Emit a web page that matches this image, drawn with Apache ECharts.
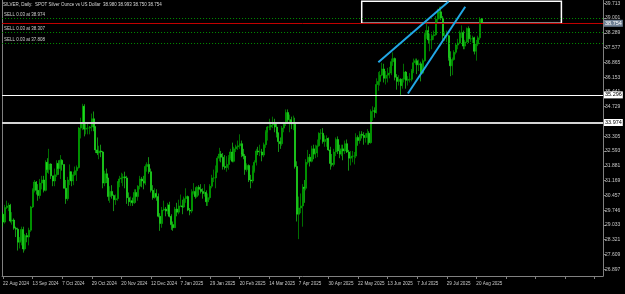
<!DOCTYPE html>
<html><head><meta charset="utf-8">
<script src="https://cdn.jsdelivr.net/npm/echarts@6/dist/echarts.min.js"></script>
<style>html,body{margin:0;padding:0;background:#000;overflow:hidden}#c{width:625px;height:294px}</style>
</head><body><div id="c"></div>
<script>
// ---- data (XAGUSD daily) ----
const startDate = '2024-08-22';
const holidays = ['2024-12-25','2025-01-01','2025-04-18'];
const opens = [
29.55,29.17,29.87,29.95,29.98,29.22,29.27,
28.88,28.83,28.20,28.28,28.82,27.88,28.52,28.45,28.78,29.90,30.72,31.10,30.70,30.45,31.05,31.20,30.70,32.05,31.70,31.97,31.40,
31.15,31.45,32.00,31.75,32.15,31.95,30.80,30.30,31.20,31.60,31.15,31.45,31.65,31.80,33.70,33.95,34.75,33.65,33.70,33.70,33.75,34.15,33.75,
32.65,32.50,32.60,32.55,31.05,31.50,31.30,30.40,30.65,30.45,30.25,30.30,31.10,31.25,31.30,31.35,31.30,30.35,30.15,30.20,30.10,
30.60,30.40,30.90,31.25,31.15,31.05,31.85,31.95,31.60,30.70,30.35,30.55,30.40,29.45,29.10,29.75,29.80,29.70,30.00,29.45,29.05,
28.90,29.80,29.65,29.95,29.95,29.90,30.30,30.40,29.75,29.70,30.60,30.65,30.40,30.85,30.75,30.65,30.55,30.60,30.15,30.35,30.90,31.30,
31.30,31.60,32.25,32.45,32.30,31.85,31.80,31.95,32.25,32.55,32.10,32.70,32.80,32.85,32.95,32.45,32.35,31.70,31.90,31.20,
31.15,31.65,32.05,32.60,32.55,32.55,32.40,32.90,33.50,33.75,33.75,33.85,33.95,33.75,33.45,33.05,32.95,33.70,33.95,34.45,34.10,
34.10,33.90,33.95,31.85,29.55,29.85,29.95,30.85,30.80,32.05,32.30,32.10,32.70,32.45,32.50,32.85,33.45,33.45,33.05,33.15,33.20,
32.65,32.00,31.95,32.55,33.15,32.60,32.45,32.70,32.60,32.95,32.55,32.25,32.30,32.35,32.35,33.25,33.10,33.40,33.35,33.25,33.25,33.45,
33.00,34.50,34.55,34.45,35.80,35.95,36.25,36.55,36.10,36.25,36.30,36.35,36.90,37.05,36.15,35.95,36.05,35.75,36.05,36.40,36.00,
36.05,36.05,36.45,36.85,36.95,36.75,36.80,36.35,36.95,38.20,38.40,37.95,37.95,38.15,38.20,38.95,39.25,39.30,39.00,38.15,38.15,38.15,37.10,
36.70,37.00,37.35,37.70,37.80,38.30,38.30,37.65,37.85,38.50,38.00,38.00,38.05,37.40,37.75,38.05,38.98];
const highs = [
29.65,30.00,30.20,30.10,30.05,29.65,29.35,
28.95,28.90,28.45,28.95,28.95,28.60,28.65,28.90,29.95,30.80,31.20,31.15,31.00,31.25,31.40,31.40,32.15,32.25,32.70,32.00,31.40,
31.75,32.15,32.15,32.40,32.20,31.95,31.20,31.35,31.95,31.60,31.60,31.85,31.90,33.75,34.20,34.87,34.85,33.90,33.95,33.80,34.40,34.50,33.80,
33.25,32.85,32.90,32.60,31.65,31.75,31.30,30.90,30.95,30.50,30.50,31.15,31.40,31.55,31.50,31.60,31.40,30.60,30.40,30.35,30.75,
30.75,30.95,31.40,31.35,31.40,31.95,32.05,32.30,31.75,30.95,30.80,30.75,30.55,29.60,29.90,30.20,29.90,30.10,30.15,29.55,29.20,
29.90,30.10,30.25,30.50,30.25,30.40,30.80,30.45,29.85,30.75,31.05,30.85,30.90,30.95,31.00,30.80,31.00,30.70,30.55,31.00,31.45,31.70,
31.90,32.35,32.75,32.60,32.50,32.40,32.35,32.40,32.70,33.00,32.80,32.90,33.10,33.40,33.10,32.70,32.45,32.00,31.95,31.45,
31.90,32.15,32.70,32.80,32.90,32.70,33.00,33.60,33.80,34.15,34.00,34.25,34.15,33.90,33.50,33.25,33.80,34.00,34.60,34.60,34.35,
34.25,34.30,34.20,32.10,30.40,30.55,31.00,31.20,32.20,32.65,32.45,32.85,32.90,32.90,33.15,33.50,33.65,33.70,33.35,33.35,33.25,
32.80,32.45,32.70,33.25,33.30,32.90,32.90,32.90,33.10,33.15,32.65,32.60,32.60,32.55,33.45,33.35,33.55,33.55,33.50,33.45,33.65,33.55,
34.60,34.75,34.70,36.10,36.40,36.45,36.85,36.80,36.45,36.60,36.65,37.05,37.35,37.10,36.30,36.25,36.10,36.10,36.80,36.45,36.20,
36.35,36.55,37.05,37.05,37.05,37.00,36.90,37.05,38.30,38.80,38.60,38.25,38.25,38.40,39.10,39.45,39.55,39.55,39.10,38.35,38.40,38.20,37.40,
37.10,37.45,37.80,38.00,38.40,38.65,38.40,37.95,38.55,38.60,38.20,38.15,38.10,37.95,38.15,39.05,38.993];
const lows = [
28.95,29.10,29.80,29.70,29.15,29.05,28.80,
28.45,27.80,27.90,28.05,27.70,27.80,28.20,28.05,28.70,29.85,30.60,30.50,30.20,30.30,30.75,30.60,30.65,31.55,31.50,31.25,30.90,
30.90,31.35,31.45,31.25,31.65,30.80,30.05,30.20,30.95,30.90,30.95,31.40,31.15,31.75,33.20,33.60,33.30,33.40,33.40,33.40,33.55,33.55,32.50,
32.40,32.20,32.30,30.80,30.90,31.05,30.20,30.10,30.30,29.70,30.00,30.20,30.85,31.05,30.90,30.80,30.05,29.95,29.95,29.95,30.05,
30.10,30.20,30.75,30.85,30.75,30.95,31.60,31.50,30.60,30.25,30.30,30.20,29.40,28.75,28.90,29.70,29.45,29.55,29.40,28.80,28.75,
28.90,29.45,29.55,29.90,29.55,29.85,30.10,29.70,29.50,29.60,30.50,30.30,30.35,30.45,30.55,30.30,30.40,29.95,29.95,30.25,30.80,31.10,
30.80,31.55,32.10,32.05,31.70,31.70,31.60,31.70,32.15,32.05,32.05,32.55,32.65,32.70,32.30,32.20,31.45,31.60,31.10,30.80,
31.05,31.55,31.90,32.40,32.35,32.10,32.30,32.75,33.10,33.60,33.60,33.70,33.50,33.25,32.55,32.70,32.85,33.50,33.80,33.90,33.50,
33.65,33.60,31.75,29.20,28.35,29.60,28.95,30.10,30.70,31.95,31.85,32.05,32.20,32.25,32.30,32.80,33.15,32.95,32.80,32.80,32.60,
31.70,31.85,31.85,32.35,32.45,32.25,32.35,32.15,32.45,32.50,31.65,31.90,32.05,31.95,32.25,32.85,32.95,33.20,32.90,33.00,32.90,32.90,
32.95,34.05,34.20,34.40,35.50,35.75,36.20,35.90,35.80,35.90,36.10,36.25,36.70,36.00,35.55,35.75,35.30,35.60,35.90,35.60,35.75,
35.90,35.95,36.35,36.75,36.30,36.45,35.95,36.30,36.90,38.00,37.80,37.40,37.50,37.95,38.15,38.80,38.95,38.90,37.95,37.90,37.85,36.95,36.20,
36.25,36.95,37.25,37.50,37.75,38.05,37.50,37.50,37.80,37.80,37.85,37.80,37.25,36.95,37.65,37.95,38.75];
const closes = [
29.17,29.87,29.95,29.98,29.22,29.27,28.88,
28.83,28.20,28.28,28.82,27.88,28.52,28.45,28.78,29.90,30.72,31.10,30.70,30.45,31.05,31.20,30.70,32.05,31.70,31.97,31.40,31.15,
31.45,32.00,31.75,32.15,31.95,30.80,30.30,31.20,31.60,31.15,31.45,31.65,31.80,33.70,33.95,34.75,33.65,33.70,33.70,33.75,34.15,33.75,32.65,
32.50,32.60,32.55,31.05,31.50,31.30,30.40,30.65,30.45,30.25,30.30,31.10,31.25,31.30,31.35,31.30,30.35,30.15,30.20,30.10,30.60,
30.40,30.90,31.25,31.15,31.05,31.85,31.95,31.60,30.70,30.35,30.55,30.40,29.45,29.10,29.75,29.80,29.70,30.00,29.45,29.05,28.90,
29.80,29.65,29.95,29.95,29.90,30.30,30.40,29.75,29.70,30.60,30.65,30.40,30.85,30.75,30.65,30.55,30.60,30.15,30.35,30.90,31.30,31.30,
31.60,32.25,32.45,32.30,31.85,31.80,31.95,32.25,32.55,32.10,32.70,32.80,32.85,32.95,32.45,32.35,31.70,31.90,31.20,31.15,
31.65,32.05,32.60,32.55,32.55,32.40,32.90,33.50,33.75,33.75,33.85,33.95,33.75,33.45,33.05,32.95,33.70,33.95,34.45,34.10,34.10,
33.90,33.95,31.85,29.55,29.85,29.95,30.85,30.80,32.05,32.30,32.10,32.70,32.45,32.50,32.85,33.45,33.45,33.05,33.15,33.20,32.65,
32.00,31.95,32.55,33.15,32.60,32.45,32.70,32.60,32.95,32.55,32.25,32.30,32.35,32.35,33.25,33.10,33.40,33.35,33.25,33.25,33.45,33.00,
34.50,34.55,34.45,35.80,35.95,36.25,36.55,36.10,36.25,36.30,36.35,36.90,37.05,36.15,35.95,36.05,35.75,36.05,36.40,36.00,36.05,
36.05,36.45,36.85,36.95,36.75,36.80,36.35,36.95,38.20,38.40,37.95,37.95,38.15,38.20,38.95,39.25,39.30,39.00,38.15,38.15,38.15,37.10,36.70,
37.00,37.35,37.70,37.80,38.30,38.30,37.65,37.85,38.50,38.00,38.00,38.05,37.40,37.75,38.05,38.95,38.754];
const yTickLabels = [26.897,27.609,28.321,29.033,29.746,30.457,31.169,31.881,32.593,33.305,34.729,35.441,36.153,36.865,37.577,38.289,39.001,39.713];
const priceLines = [35.296, 33.974];
const currentPrice = 38.754;
const sellOrders = [38.974, 38.307, 37.808];
const trendLines = [[[203,36.87],[241,39.80]], [[219,35.37],[250,39.55]]];
const boxCorners = [[194,39.81],[302,38.754]];
const header = 'SILVER, Daily:  SPOT Silver Ounce vs US Dollar  38.980 38.993 38.750 38.754';
const totalSlots = 325;

// ---- categories (trading days) ----
const MONTHS = ['Jan','Feb','Mar','Apr','May','Jun','Jul','Aug','Sep','Oct','Nov','Dec'];
const categories = [];
let d = new Date(startDate + 'T00:00:00Z');
while (categories.length < closes.length) {
  const iso = d.toISOString().slice(0,10);
  const wd = d.getUTCDay();
  if (wd !== 0 && wd !== 6 && holidays.indexOf(iso) < 0) {
    categories.push(d.getUTCDate() + ' ' + MONTHS[d.getUTCMonth()] + ' ' + d.getUTCFullYear());
  }
  d = new Date(d.getTime() + 86400000);
}
while (categories.length < totalSlots) categories.push('');

const candles = opens.map((o, i) => [o, closes[i], lows[i], highs[i]]);

const FONT = 'Liberation Sans';
const markLines = [];
priceLines.forEach((v, i) => markLines.push({
  yAxis: v,
  lineStyle: {color: i === 0 ? '#ffffff' : '#d4d4d4', width: i === 0 ? 1.2 : 2, type: 'solid'},
  label: {show: true, position: 'end', distance: 1, formatter: v.toFixed(3), color: '#000', backgroundColor: '#ffffff', padding: [1,1,0,1], fontSize: 5.5, fontFamily: FONT}
}));
markLines.push({
  yAxis: currentPrice,
  lineStyle: {color: '#c00000', width: 1, type: 'solid'},
  label: {show: true, position: 'end', distance: 1, formatter: currentPrice.toFixed(3), color: '#fff', backgroundColor: '#6f8094', padding: [1,1,0,1], fontSize: 5.5, fontFamily: FONT}
});
sellOrders.forEach(v => markLines.push({
  yAxis: v,
  lineStyle: {color: '#009000', width: 1, type: [1,2]},
  label: {show: true, position: 'insideStartTop', distance: [2,1], formatter: 'SELL 0.03 at ' + v.toFixed(3), color: '#cfcfcf', fontSize: 4.5, fontFamily: FONT}
}));
trendLines.forEach(t => markLines.push([
  {coord: t[0], lineStyle: {color: '#22a7e6', width: 2, type: 'solid'}, label: {show: false}},
  {coord: t[1]}
]));

const chart = echarts.init(document.getElementById('c'), null, {renderer: 'canvas'});
chart.setOption({
  backgroundColor: '#000000',
  animation: false,
  grid: {left: 1, right: 22, top: 0, bottom: 18},
  graphic: [{type: 'text', left: 3, top: 2, style: {text: header, fill: '#d8d8d8', fontSize: 4.5, fontFamily: FONT}}],
  xAxis: {
    type: 'category', data: categories, boundaryGap: true,
    axisLine: {lineStyle: {color: '#808080', width: 1}},
    axisTick: {show: true, interval: 15, alignWithLabel: true, length: 3, lineStyle: {color: '#808080'}},
    axisLabel: {interval: 15, showMinLabel: true, color: '#c8c8c8', fontSize: 4.6, fontFamily: FONT, align: 'left', margin: 5, hideOverlap: false},
    splitLine: {show: false}
  },
  yAxis: [{
    type: 'value', position: 'right', min: 26.574, max: 39.872, scale: true,
    axisLine: {show: true, lineStyle: {color: '#808080', width: 1}},
    axisTick: {show: true, length: 3, customValues: yTickLabels, lineStyle: {color: '#808080'}},
    axisLabel: {show: true, customValues: yTickLabels, formatter: v => v.toFixed(3), color: '#c8c8c8', fontSize: 5, fontFamily: FONT, margin: 2},
    splitLine: {show: false}
  }, {
    type: 'value', position: 'left', min: 26.574, max: 39.872,
    axisLine: {show: true, lineStyle: {color: '#808080', width: 1}},
    axisTick: {show: false}, axisLabel: {show: false}, splitLine: {show: false}
  }],
  series: [{
    type: 'candlestick',
    data: candles,
    barWidth: 1.5,
    itemStyle: {color: '#00a800', color0: '#22ee22', borderColor: '#00b800', borderColor0: '#22ee22', borderWidth: 0.6},
    markLine: {silent: true, symbol: ['none','none'], animation: false, data: markLines},
    markArea: {silent: true, itemStyle: {color: 'rgba(0,0,0,0)', borderColor: '#ffffff', borderWidth: 1.5},
      data: [[{coord: boxCorners[0]}, {coord: boxCorners[1]}]]}
  }]
});
</script></body></html>
